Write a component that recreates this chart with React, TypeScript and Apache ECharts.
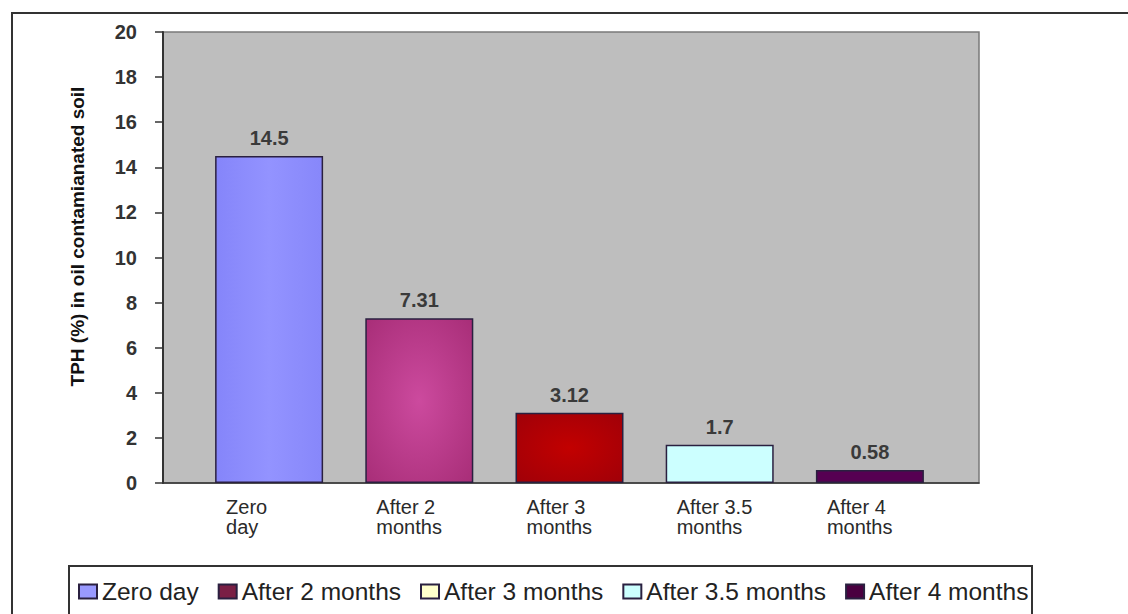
import React, { useEffect, useRef } from "react";
import * as echarts from "echarts";

const categories = ["Zero day", "After 2 months", "After 3 months", "After 3.5 months", "After 4 months"];
const seriesNames = ["Zero day", "After 2 months", "After 3 months", "After 3.5 months", "After 4 months"];
const values = [14.5, 7.31, 3.12, 1.7, 0.58];
const valueLabels = ["14.5", "7.31", "3.12", "1.7", "0.58"];
const legendColors = ["#9999FF", "#7A1F45", "#FFFFCC", "#CCFFFF", "#4A0040"];
const yTitle = "TPH (%) in oil contamianated soil";

const FONT = "'Liberation Sans', Arial, sans-serif";

function barFill(i: number): any {
  if (i === 0) return new echarts.graphic.LinearGradient(0, 0, 1, 0, [
    { offset: 0, color: "#8585FA" }, { offset: 0.5, color: "#9393FF" }, { offset: 1, color: "#8787FA" }]);
  if (i === 1) return new echarts.graphic.RadialGradient(0.5, 0.5, 0.7, [
    { offset: 0, color: "#CC4A9E" }, { offset: 1, color: "#A82E78" }]);
  if (i === 2) return new echarts.graphic.RadialGradient(0.5, 0.5, 0.7, [
    { offset: 0, color: "#C20000" }, { offset: 1, color: "#A00008" }]);
  if (i === 3) return "#CCFFFF";
  return "#560052";
}

export default function App() {
  const ref = useRef<HTMLDivElement>(null);
  useEffect(() => {
    document.body.style.margin = "0";
    const chart = echarts.init(ref.current!, undefined, { renderer: "svg" });
    const series = seriesNames.map((name, si) => ({
      name,
      type: "bar",
      stack: "all",
      xAxisIndex: 0,
      yAxisIndex: 0,
      barWidth: 108,
      itemStyle: { color: legendColors[si], borderColor: "#2a2040", borderWidth: 1.5 },
      label: {
        show: true,
        position: "top",
        distance: 8,
        formatter: () => valueLabels[si],
        fontFamily: FONT,
        fontSize: 20,
        fontWeight: "bold",
        color: "#3a3a3a",
      },
      data: values.map((v, ci) =>
        ci === si ? { value: v, itemStyle: { color: barFill(si), borderColor: "#2a2040", borderWidth: 1.5 } } : "-"
      ),
    }));
    chart.setOption({
      animation: false,
      backgroundColor: "#ffffff",
      graphic: [
        { type: "rect", z: -10, shape: { x: 12, y: 13, width: 1300, height: 800 }, style: { fill: "none", stroke: "#333", lineWidth: 2 } },
        { type: "rect", z: -10, shape: { x: 69, y: 566, width: 963, height: 200 }, style: { fill: "none", stroke: "#333", lineWidth: 2 } },
      ],
      grid: [
        { left: 194, right: 183, top: 32, bottom: 131 },
        { left: 163, right: 149, top: 32, bottom: 131, show: true, backgroundColor: "#BEBEBE", borderColor: "#7a7a7a", borderWidth: 1.5 },
      ],
      legend: {
        data: seriesNames,
        left: 78,
        top: 579,
        padding: 0,
        itemWidth: 18,
        itemHeight: 14,
        itemGap: 19,
        icon: "rect",
        textStyle: { fontFamily: FONT, fontSize: 24.5, color: "#222" },
      },
      xAxis: [
        {
          type: "category",
          gridIndex: 0,
          data: categories,
          axisLine: { show: false },
          axisTick: { show: false },
          axisLabel: {
            margin: 14,
            interval: 0,
            formatter: (s: string) => {
              const k = s.lastIndexOf(" ");
              return "{a|" + s.slice(0, k) + "}\n{a|" + s.slice(k + 1) + "}";
            },
            rich: { a: { width: 86, align: "left", fontFamily: FONT, fontSize: 20, lineHeight: 20, color: "#2a2a2a" } },
          },
        },
        {
          type: "value",
          gridIndex: 1,
          min: 0,
          max: 1,
          axisLine: { show: true, lineStyle: { color: "#333", width: 1.5 } },
          axisTick: { show: false },
          axisLabel: { show: false },
          splitLine: { show: false },
        },
      ],
      yAxis: [
        { type: "value", gridIndex: 0, min: 0, max: 20, show: false, splitLine: { show: false } },
        {
          type: "value",
          gridIndex: 1,
          min: 0,
          max: 20,
          interval: 2,
          axisLine: { show: true, lineStyle: { color: "#333", width: 2 } },
          axisTick: { show: true, length: 8, lineStyle: { color: "#333", width: 1.5 } },
          splitLine: { show: false },
          axisLabel: { margin: 26, fontFamily: FONT, fontSize: 20, fontWeight: "bold", color: "#333" },
          name: yTitle,
          nameLocation: "middle",
          nameRotate: 90,
          nameGap: 76,
          nameTextStyle: { fontFamily: FONT, fontSize: 19, fontWeight: "bold", color: "#111", padding: [0, 0, 0, 42] },
        },
      ],
      series,
    });
    return () => chart.dispose();
  }, []);
  return <div ref={ref} style={{ width: 1128, height: 614 }} />;
}
